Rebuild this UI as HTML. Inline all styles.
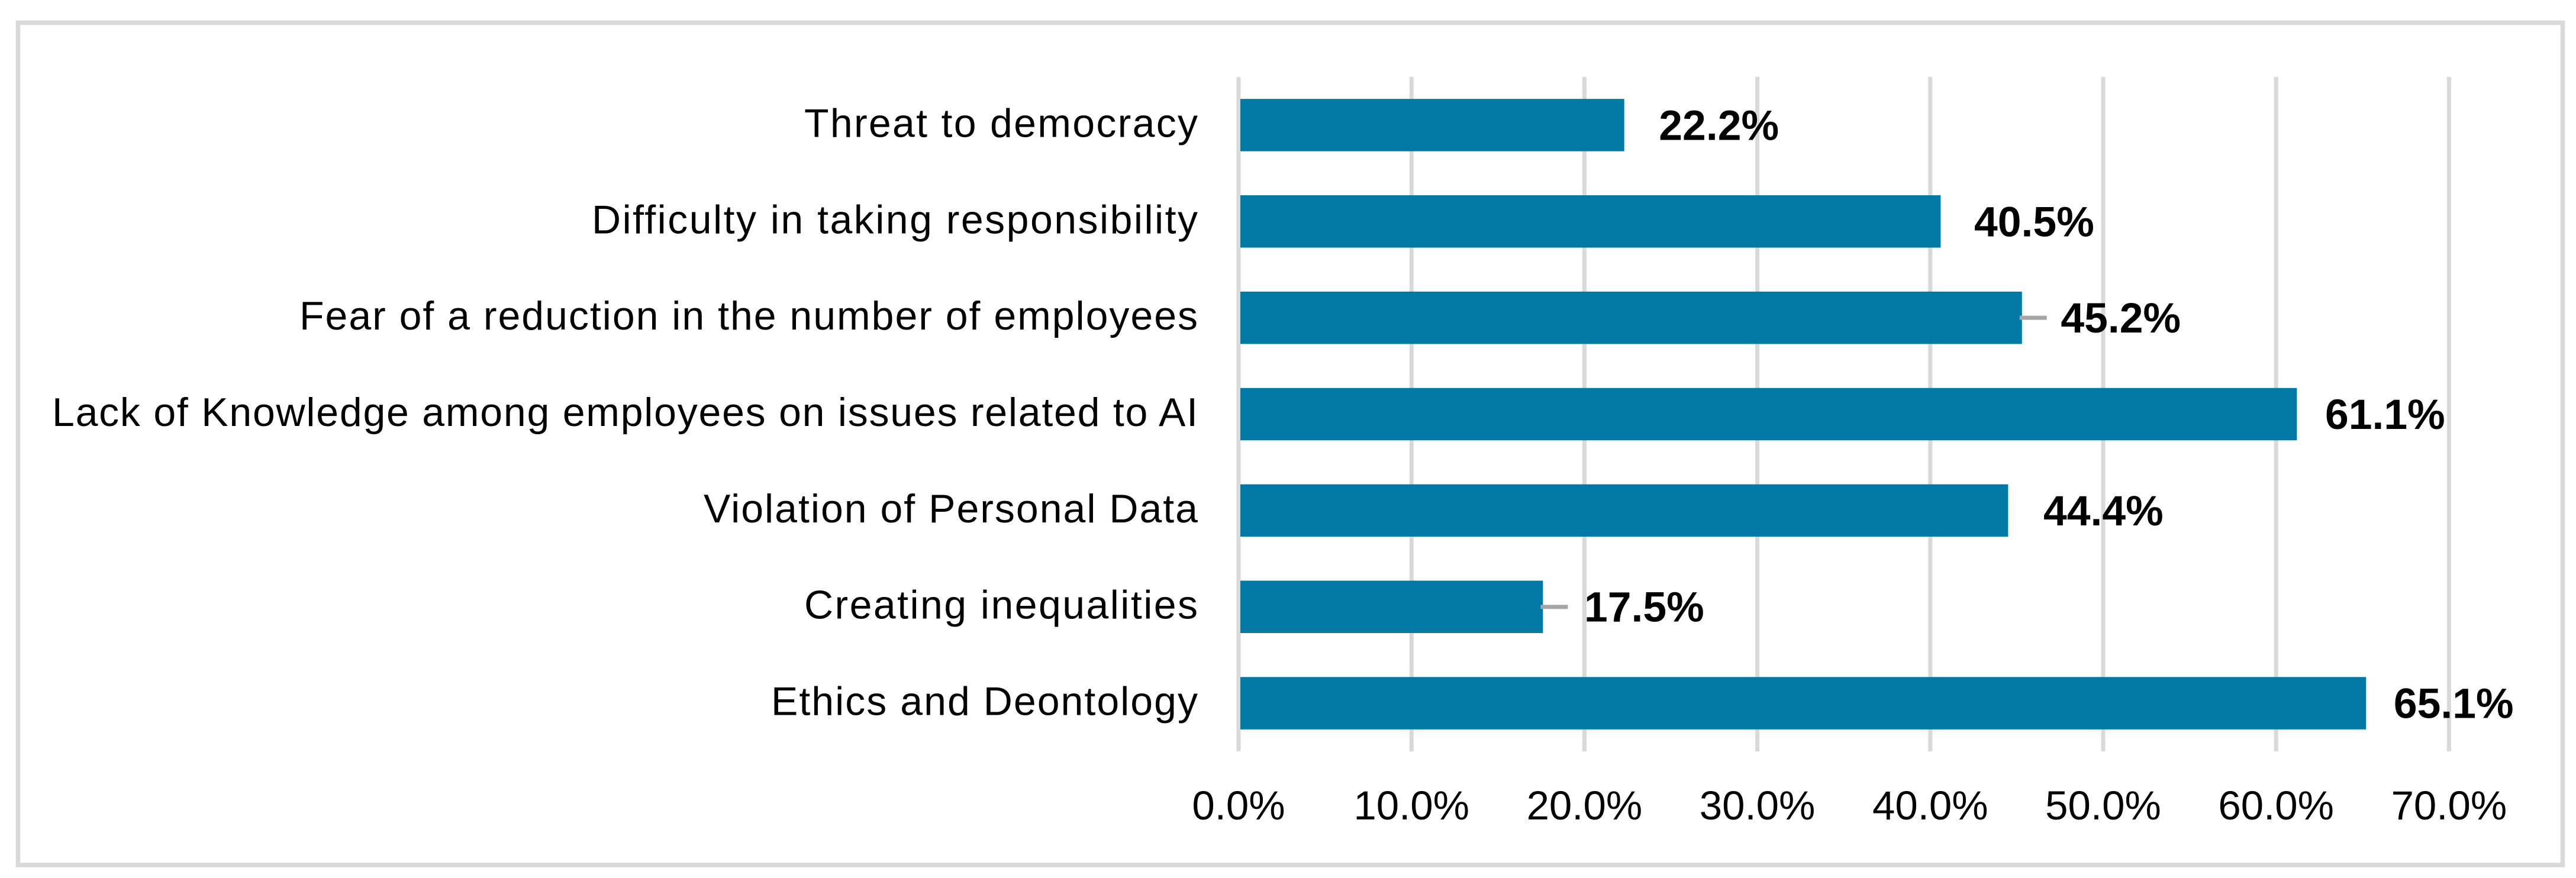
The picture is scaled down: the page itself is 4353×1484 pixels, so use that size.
<!DOCTYPE html>
<html lang="en">
<head>
<meta charset="utf-8">
<title>AI concerns bar chart</title>
<style>
  html, body { margin: 0; padding: 0; background: #ffffff; }
  svg { display: block; font-family: "Liberation Sans", sans-serif; }
</style>
</head>
<body>
<svg id="chart" xmlns="http://www.w3.org/2000/svg" width="4353" height="1484" viewBox="0 0 4353 1484">
  <rect x="0" y="0" width="4353" height="1484" fill="#ffffff"/>
  <rect x="30.5" y="38.5" width="4300" height="1423.5" fill="#ffffff" stroke="#d9d9d9" stroke-width="7.5"/>
  <g id="grid"></g>
  <g id="bars"></g>
  <g id="leaders"></g>
  <g id="cats"></g>
  <g id="vals"></g>
  <g id="ticks"></g>
</svg>
<script>
const categories = [
  "Threat to democracy",
  "Difficulty in taking responsibility",
  "Fear of a reduction in the number of employees",
  "Lack of Knowledge among employees on issues related to AI",
  "Violation of Personal Data",
  "Creating inequalities",
  "Ethics and Deontology"
];
const values = [22.2, 40.5, 45.2, 61.1, 44.4, 17.5, 65.1];
const tickValues = [0, 10, 20, 30, 40, 50, 60, 70];
const labelNudge = [0, -2, 7, -11, 1, 11, -12];
const hasLeader = [false, false, true, false, false, true, false];

const NS = "http://www.w3.org/2000/svg";
const plotTop = 130, plotBottom = 1270;
const x0 = 2096, pxPerUnit = 29.22;
const band = (plotBottom - plotTop) / categories.length;
const barH = 88.5;
const catTextFit = { "Threat to democracy": 665, "Difficulty in taking responsibility": 1024, "Fear of a reduction in the number of employees": 1518, "Lack of Knowledge among employees on issues related to AI": 1936, "Violation of Personal Data": 835, "Creating inequalities": 665, "Ethics and Deontology": 721 };
function xScale(v) { return x0 + v * pxPerUnit; }
function yScale(i) { return plotTop + band * (i + 0.5); }
function make(tag, attrs, parent, text) {
  const el = document.createElementNS(NS, tag);
  for (const k in attrs) el.setAttribute(k, attrs[k]);
  if (text !== undefined) el.textContent = text;
  parent.appendChild(el);
  return el;
}
const gridG = document.getElementById("grid");
const barsG = document.getElementById("bars");
const leadersG = document.getElementById("leaders");
const catsG = document.getElementById("cats");
const valsG = document.getElementById("vals");
const ticksG = document.getElementById("ticks");

tickValues.forEach(function (t) {
  const gx = xScale(t) - 3;
  const line = make("line", { x1: gx, x2: gx, y1: plotTop, y2: plotBottom, stroke: "#d9d9d9", "stroke-width": 7 }, gridG);
  
  
  const label = make("text", { x: gx, y: 1385, "text-anchor": "middle", "font-size": 69, fill: "#000000" }, ticksG, t.toFixed(1) + "%");
  
  
});

categories.forEach(function (name, i) {
  const cy = yScale(i);
  const bar = make("rect", { x: x0, y: cy - barH / 2, width: xScale(values[i]) - x0, height: barH, fill: "#0278a4" }, barsG);
  
  

  const cat = make("text", { x: 2024, y: cy + 20, "text-anchor": "end", "font-size": 68, textLength: catTextFit[name], lengthAdjust: "spacing", fill: "#000000" }, catsG, name);
  
  

  const end = xScale(values[i]);
  const val = make("text", { x: end + 160 + labelNudge[i], y: cy + 25, "text-anchor": "middle", "font-size": 71.5, "font-weight": "bold", fill: "#000000" }, valsG, values[i].toFixed(1) + "%");
  
  

  if (hasLeader[i]) {
    const lead = make("line", { x1: end - 4, x2: end + 42, y1: cy, y2: cy, stroke: "#a6a6a6", "stroke-width": 7 }, leadersG);
    
    
  }
});
</script>
</body>
</html>
